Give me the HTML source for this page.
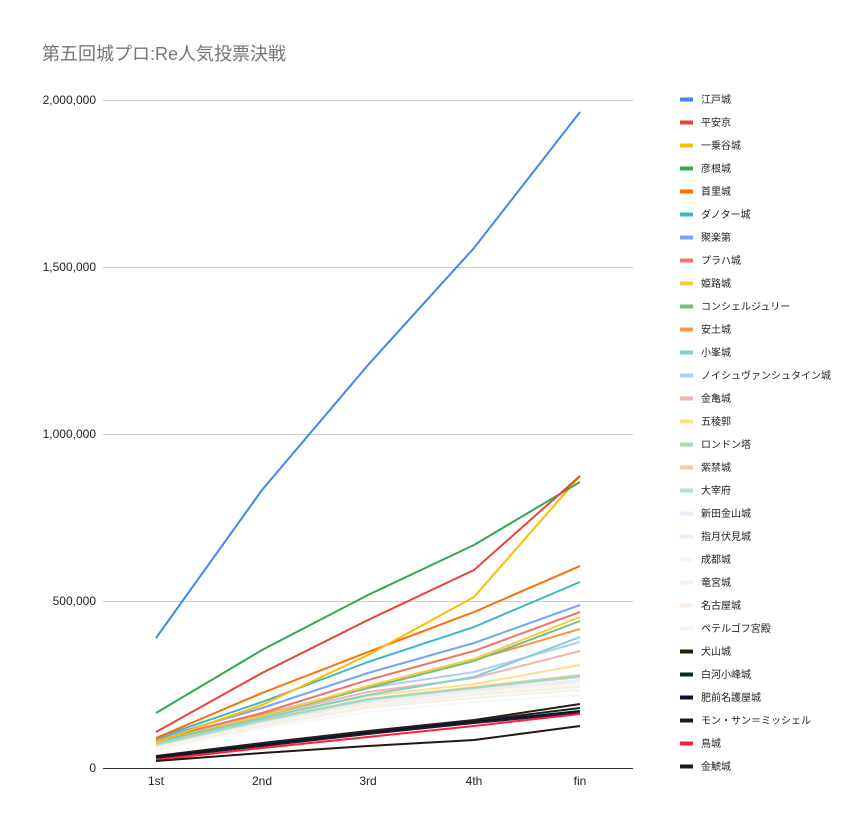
<!DOCTYPE html>
<html><head><meta charset="utf-8"><style>
body{margin:0;background:#fff;}
text{font-family:"Liberation Sans","Noto Sans CJK JP",sans-serif;}
</style></head><body>
<svg width="859" height="830" xmlns="http://www.w3.org/2000/svg">
<rect width="859" height="830" fill="#fff"/>
<text x="42" y="60" font-size="18" fill="#757575">第五回城プロ:Re人気投票決戦</text>
<g stroke="#ccc" stroke-width="1">
<line x1="103" x2="633" y1="100.5" y2="100.5"/>
<line x1="103" x2="633" y1="267.5" y2="267.5"/>
<line x1="103" x2="633" y1="434.5" y2="434.5"/>
<line x1="103" x2="633" y1="601.5" y2="601.5"/>
</g>
<line x1="103" x2="633" y1="768.5" y2="768.5" stroke="#333" stroke-width="1"/>
<g font-size="12" fill="#222" text-anchor="end">
<text x="96" y="104">2,000,000</text>
<text x="96" y="271">1,500,000</text>
<text x="96" y="438">1,000,000</text>
<text x="96" y="605">500,000</text>
<text x="96" y="772">0</text>
</g>
<g font-size="12" fill="#222" text-anchor="middle">
<text x="156" y="785">1st</text><text x="262" y="785">2nd</text><text x="368" y="785">3rd</text><text x="474" y="785">4th</text><text x="580" y="785">fin</text>
</g>
<g fill="none" stroke-width="2" stroke-linejoin="round">
<polyline stroke="#f3f9fb" points="156,750 262,728 368,712 474,702 580,695"/>
<polyline stroke="#fdeee2" points="156,748 262,726 368,708 474,698 580,690"/>
<polyline stroke="#e8f5ec" points="156,747 262,725 368,706 474,695 580,687"/>
<polyline stroke="#fdf5e4" points="156,747 262,724 368,705 474,693 580,685"/>
<polyline stroke="#fce8ea" points="156,746 262,723 368,703 474,691 580,682"/>
<polyline stroke="#e8edfb" points="156,745 262,722 368,702 474,690 580,680"/>
<polyline stroke="#aee0e4" points="156,745 262,721 368,700 474,688 580,677"/>
<polyline stroke="#fbc89e" points="156,744 262,720 368,699 474,687 580,675"/>
<polyline stroke="#a8d8b0" points="156,744 262,720 368,699 474,688 580,676"/>
<polyline stroke="#fde08a" points="156,742 262,718 368,696 474,684 580,665"/>
<polyline stroke="#f6b3ad" points="156,742 262,716 368,692 474,678 580,651"/>
<polyline stroke="#b3cbf7" points="156,741 262,714 368,688 474,672 580,642"/>
<polyline stroke="#7fd0d0" points="156,742 262,718 368,695 474,677 580,637"/>
<polyline stroke="#f8964c" points="156,741 262,715 368,688 474,660 580,629"/>
<polyline stroke="#72c081" points="156,741 262,716 368,688 474,661 580,621"/>
<polyline stroke="#fbc940" points="156,740 262,716 368,686 474,659 580,617"/>
<polyline stroke="#ec756d" points="156,740 262,713 368,680 474,651 580,612"/>
<polyline stroke="#79a3f5" points="156,739 262,708 368,673 474,643 580,605"/>
<polyline stroke="#3eb8bd" points="156,738 262,702 368,662 474,627 580,582"/>
<polyline stroke="#ff6d00" points="156,738 262,693 368,652 474,612 580,566"/>
<polyline stroke="#fbbc04" points="156,742 262,705 368,655 474,597 580,476"/>
<polyline stroke="#34a853" points="156,713 262,650 368,595 474,545 580,482"/>
<polyline stroke="#ea4335" points="156,732 262,673 368,620 474,570 580,476"/>
<polyline stroke="#4285f4" points="156,638 262,490 368,365 474,248 580,112"/>
<polyline stroke="#2b1d0a" points="156,756 262,743 368,731 474,720 580,704"/>
<polyline stroke="#0f2a2a" points="156,757 262,744 368,732 474,721 580,708"/>
<polyline stroke="#0b1233" points="156,757 262,745 368,733 474,722 580,711"/>
<polyline stroke="#2a1626" points="156,758 262,746 368,734 474,723 580,713"/>
<polyline stroke="#ff1f3a" points="156,760 262,748 368,737 474,726 580,714"/>
<polyline stroke="#261612" points="156,761 262,753 368,746 474,740 580,726"/>
</g>
<g font-size="10" fill="#222">
<g transform="translate(680,99)"><rect x="0" y="-1.5" width="13" height="4" fill="#4285f4"/><text x="21" y="4">江戸城</text></g>
<g transform="translate(680,122)"><rect x="0" y="-1.5" width="13" height="4" fill="#ea4335"/><text x="21" y="4">平安京</text></g>
<g transform="translate(680,145)"><rect x="0" y="-1.5" width="13" height="4" fill="#fbbc04"/><text x="21" y="4">一乗谷城</text></g>
<g transform="translate(680,168)"><rect x="0" y="-1.5" width="13" height="4" fill="#34a853"/><text x="21" y="4">彦根城</text></g>
<g transform="translate(680,191)"><rect x="0" y="-1.5" width="13" height="4" fill="#ff6d00"/><text x="21" y="4">首里城</text></g>
<g transform="translate(680,214)"><rect x="0" y="-1.5" width="13" height="4" fill="#3eb8bd"/><text x="21" y="4">ダノター城</text></g>
<g transform="translate(680,237)"><rect x="0" y="-1.5" width="13" height="4" fill="#79a3f5"/><text x="21" y="4">聚楽第</text></g>
<g transform="translate(680,260)"><rect x="0" y="-1.5" width="13" height="4" fill="#ec756d"/><text x="21" y="4">プラハ城</text></g>
<g transform="translate(680,283)"><rect x="0" y="-1.5" width="13" height="4" fill="#fbc940"/><text x="21" y="4">姫路城</text></g>
<g transform="translate(680,306)"><rect x="0" y="-1.5" width="13" height="4" fill="#72c081"/><text x="21" y="4">コンシェルジュリー</text></g>
<g transform="translate(680,329)"><rect x="0" y="-1.5" width="13" height="4" fill="#f8964c"/><text x="21" y="4">安土城</text></g>
<g transform="translate(680,352)"><rect x="0" y="-1.5" width="13" height="4" fill="#7fd0d0"/><text x="21" y="4">小峯城</text></g>
<g transform="translate(680,375)"><rect x="0" y="-1.5" width="13" height="4" fill="#b3cbf7"/><text x="21" y="4">ノイシュヴァンシュタイン城</text></g>
<g transform="translate(680,398)"><rect x="0" y="-1.5" width="13" height="4" fill="#f6b3ad"/><text x="21" y="4">金亀城</text></g>
<g transform="translate(680,421)"><rect x="0" y="-1.5" width="13" height="4" fill="#fde08a"/><text x="21" y="4">五稜郭</text></g>
<g transform="translate(680,444)"><rect x="0" y="-1.5" width="13" height="4" fill="#a8d8b0"/><text x="21" y="4">ロンドン塔</text></g>
<g transform="translate(680,467)"><rect x="0" y="-1.5" width="13" height="4" fill="#fbc89e"/><text x="21" y="4">紫禁城</text></g>
<g transform="translate(680,490)"><rect x="0" y="-1.5" width="13" height="4" fill="#aee0e4"/><text x="21" y="4">大宰府</text></g>
<g transform="translate(680,513)"><rect x="0" y="-1.5" width="13" height="4" fill="#e8edfb"/><text x="21" y="4">新田金山城</text></g>
<g transform="translate(680,536)"><rect x="0" y="-1.5" width="13" height="4" fill="#fce8ea"/><text x="21" y="4">指月伏見城</text></g>
<g transform="translate(680,559)"><rect x="0" y="-1.5" width="13" height="4" fill="#fdf5e4"/><text x="21" y="4">成都城</text></g>
<g transform="translate(680,582)"><rect x="0" y="-1.5" width="13" height="4" fill="#e8f5ec"/><text x="21" y="4">竜宮城</text></g>
<g transform="translate(680,605)"><rect x="0" y="-1.5" width="13" height="4" fill="#fdeee2"/><text x="21" y="4">名古屋城</text></g>
<g transform="translate(680,628)"><rect x="0" y="-1.5" width="13" height="4" fill="#eef8f8"/><text x="21" y="4">ペテルゴフ宮殿</text></g>
<g transform="translate(680,651)"><rect x="0" y="-1.5" width="13" height="4" fill="#2b1d0a"/><text x="21" y="4">犬山城</text></g>
<g transform="translate(680,674)"><rect x="0" y="-1.5" width="13" height="4" fill="#0f2a2a"/><text x="21" y="4">白河小峰城</text></g>
<g transform="translate(680,697)"><rect x="0" y="-1.5" width="13" height="4" fill="#0b1233"/><text x="21" y="4">肥前名護屋城</text></g>
<g transform="translate(680,720)"><rect x="0" y="-1.5" width="13" height="4" fill="#2a1626"/><text x="21" y="4">モン・サン＝ミッシェル</text></g>
<g transform="translate(680,743)"><rect x="0" y="-1.5" width="13" height="4" fill="#ff1f3a"/><text x="21" y="4">鳥城</text></g>
<g transform="translate(680,766)"><rect x="0" y="-1.5" width="13" height="4" fill="#261612"/><text x="21" y="4">金鯱城</text></g>
</g>
</svg>
</body></html>
